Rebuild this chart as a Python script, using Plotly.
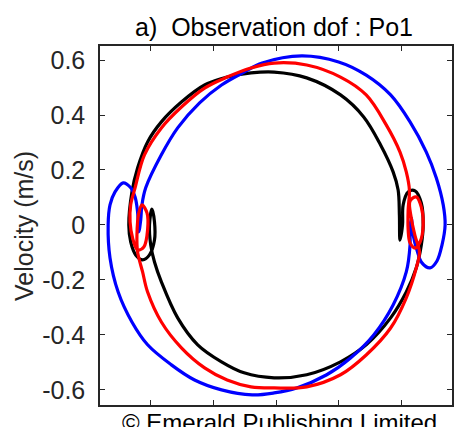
import plotly.graph_objects as go

# Phase-plane trajectories (displacement in arbitrary units, velocity in m/s)
black_x = [-0.03, 0.49, 1.03, 1.40, 1.67, 1.87, 1.95, 1.97, 1.98, 2.02, 2.03, 2.11, 2.22, 2.32, 2.35,
           2.32, 2.24, 2.08, 1.83, 1.44, 1.03, 0.49, -0.03, -0.51, -0.87, -1.25, -1.57, -1.83, -1.94,
           -2.00, -2.02, -1.98, -1.94, -1.94, -2.02, -2.13, -2.24, -2.32, -2.35, -2.30, -2.21, -2.05,
           -1.83, -1.51, -1.14, -0.78, -0.40, -0.03]
black_y = [0.556, 0.535, 0.473, 0.393, 0.291, 0.193, 0.127, 0.036, -0.055, 0.000, 0.073, 0.120, 0.124,
           0.080, 0.000, -0.073, -0.156, -0.244, -0.338, -0.436, -0.498, -0.545, -0.556, -0.538, -0.498,
           -0.436, -0.338, -0.207, -0.135, -0.073, 0.000, 0.058, 0.011, -0.055, -0.109, -0.127, -0.109,
           -0.062, 0.000, 0.120, 0.207, 0.302, 0.375, 0.447, 0.509, 0.538, 0.553, 0.556]

red_x = [-0.03, 0.49, 1.03, 1.44, 1.76, 1.98, 2.08, 2.13, 2.11, 2.11, 2.14, 2.22, 2.30, 2.35, 2.32,
         2.24, 2.14, 2.16, 2.22, 2.29, 2.24, 2.08, 1.83, 1.44, 1.03, 0.49, -0.03, -0.40, -0.78, -1.14,
         -1.51, -1.83, -2.05, -2.13, -2.21, -2.22, -2.19, -2.14, -2.06, -2.05, -2.11, -2.21, -2.29,
         -2.33, -2.32, -2.25, -2.10, -1.83, -1.51, -1.14, -0.78, -0.40, -0.03]
red_y = [0.589, 0.582, 0.538, 0.473, 0.364, 0.265, 0.193, 0.127, 0.055, -0.018, -0.065, -0.084, -0.062,
         0.000, 0.065, 0.102, 0.087, 0.025, -0.040, -0.098, -0.156, -0.265, -0.375, -0.473, -0.545,
         -0.589, -0.593, -0.589, -0.564, -0.520, -0.447, -0.353, -0.244, -0.171, -0.098, -0.036, 0.044,
         0.073, 0.044, -0.018, -0.080, -0.091, -0.047, 0.011, 0.073, 0.135, 0.255, 0.353, 0.429, 0.498,
         0.538, 0.571, 0.589]

blue_x = [-0.22, 0.41, 1.00, 1.44, 1.83, 2.14, 2.40, 2.56, 2.67, 2.70, 2.65, 2.57, 2.46, 2.33, 2.25,
          2.19, 2.16, 2.14, 2.14, 2.08, 1.87, 1.56, 1.19, 0.81, 0.33, -0.03, -0.38, -0.87, -1.30, -1.67,
          -2.05, -2.30, -2.52, -2.65, -2.68, -2.65, -2.57, -2.44, -2.33, -2.25, -2.21, -2.19, -2.16,
          -2.14, -2.08, -1.83, -1.57, -1.22, -0.87, -0.51, -0.22]
blue_y = [0.589, 0.615, 0.593, 0.545, 0.473, 0.375, 0.265, 0.171, 0.073, 0.000, -0.073, -0.131, -0.156,
          -0.138, -0.091, -0.036, 0.025, -0.011, -0.073, -0.171, -0.291, -0.400, -0.484, -0.545, -0.593,
          -0.611, -0.618, -0.600, -0.564, -0.509, -0.436, -0.353, -0.244, -0.120, 0.000, 0.073, 0.120,
          0.153, 0.138, 0.102, 0.047, -0.025, 0.018, 0.073, 0.135, 0.255, 0.353, 0.444, 0.509, 0.556,
          0.589]

y_ticks = [-0.6, -0.4, -0.2, 0, 0.2, 0.4, 0.6]
y_tick_labels = ["-0.6", "-0.4", "-0.2", "0", "0.2", "0.4", "0.6"]
x_ticks = [-2, -1, 0, 1, 2]

FONT = "Liberation Sans, Arial, Helvetica, sans-serif"
TXT = "#262626"

fig = go.Figure()
for xs, ys, col in [(black_x, black_y, "#000000"), (blue_x, blue_y, "#0000ff"), (red_x, red_y, "#ff0000")]:
    fig.add_trace(go.Scatter(x=xs, y=ys, mode="lines",
                             line=dict(color=col, width=3.2, shape="spline", smoothing=1.0),
                             showlegend=False, hoverinfo="skip"))

axis_common = dict(showgrid=False, zeroline=False, showline=True, linecolor=TXT, linewidth=1.5,
                   mirror="allticks", ticks="inside", ticklen=5, tickwidth=1.2, tickcolor=TXT)

fig.update_xaxes(range=[-2.81, 2.81], tickvals=x_ticks, showticklabels=False, **axis_common)
fig.update_yaxes(range=[-0.655, 0.651], tickvals=y_ticks, ticktext=y_tick_labels,
                 tickfont=dict(family=FONT, size=25, color=TXT), ticklabelstandoff=8, **axis_common)

fig.update_layout(
    width=462, height=427,
    margin=dict(l=100, r=8, t=46, b=22),
    paper_bgcolor="white", plot_bgcolor="white",
    title=dict(text="a)\u00a0 Observation dof : Po1", x=274 / 462, xanchor="center",
               y=1 - 27 / 427, yanchor="middle", yref="container",
               font=dict(family=FONT, size=25, color="#000000")),
    annotations=[
        dict(text="Velocity (m/s)", textangle=-90, xref="paper", yref="paper",
             x=(23 - 100) / 354, y=0.5, xanchor="center", yanchor="middle", showarrow=False,
             font=dict(family=FONT, size=25, color=TXT)),
        dict(text="© Emerald Publishing Limited", xref="paper", yref="paper",
             x=(281 - 100) / 354, y=(405 - 407) / 359, xanchor="center", yanchor="top",
             showarrow=False, font=dict(family=FONT, size=24, color="#000000")),
    ],
)

fig.write_html("out.html")
